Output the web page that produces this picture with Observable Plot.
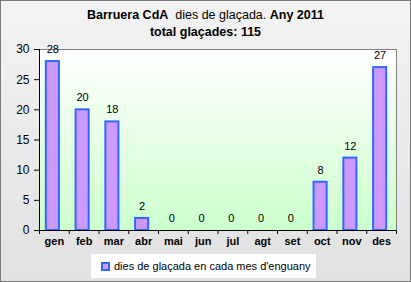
<!DOCTYPE html>
<html><head><meta charset="utf-8">
<script src="https://cdn.jsdelivr.net/npm/d3@7"></script>
<script src="https://cdn.jsdelivr.net/npm/@observablehq/plot@0.6"></script>
<style>
body{margin:0;font-family:"Liberation Sans",Arial,sans-serif;}
#c{position:relative;width:411px;height:282px;background:linear-gradient(#f3f3f3,#e1e1e1);box-shadow:inset 0 0 0 1px #7a7a7a;overflow:hidden;}
#t{position:absolute;left:0;top:7px;width:411px;text-align:center;font-size:12.5px;line-height:17px;color:#000;}
#p{position:absolute;left:0;top:40px;}
#lg{position:absolute;left:91px;top:254px;width:225px;height:24px;background:#fff;font-size:11px;display:flex;align-items:center;}
#lg .m{display:inline-block;width:5px;height:5px;background:#cc99ff;border:2px solid #3366ff;margin-left:10px;margin-right:4px;}
</style></head>
<body>
<div id="c">
<div id="t"><b>Barruera CdA</b>&nbsp; dies de glaçada. <b>Any 2011</b><br><b>total glaçades: 115</b></div>
<div id="p"></div>
<div id="lg"><span class="m"></span><span>dies de glaçada en cada mes d'enguany</span></div>
</div>
<script>
const months = ["gen","feb","mar","abr","mai","jun","jul","agt","set","oct","nov","des"];
const values = [28,20,18,2,0,0,0,0,0,8,12,27];
const yTicks = [0,5,10,15,20,25,30];
const data = months.map((m,i)=>({m, v: values[i]}));
const W = 411, ML = 39, MR = 15;
const step = (W-ML-MR)/months.length;
const chart = Plot.plot({
  width: W, height: 210,
  marginLeft: ML, marginRight: MR, marginTop: 9, marginBottom: 20,
  style: {fontFamily: '"Liberation Sans", Arial, sans-serif', background: "transparent", color: "#000"},
  x: {domain: months, paddingInner: 0.56, paddingOuter: 0.28, round: false, axis: null, label: null},
  y: {domain: [0,30], axis: null, label: null},
  marks: [
    Plot.frame({fill: "url(#bgGrad)", stroke: "#808080"}),
    Plot.barY(data, {x: "m", y: "v", filter: d => d.v > 0, fill: "#cc99ff", stroke: "#3366ff", strokeWidth: 2, dx: -1.5}),
    Plot.text(data, {x: "m", y: "v", text: d => String(d.v), dy: -12, dx: -1.5, fontSize: 11}),
    Plot.axisY({ticks: yTicks, tickSize: 5, tickPadding: 5, fontSize: 12, stroke: "#000", label: null}),
    Plot.axisX({tickSize: 0, tickPadding: 7, fontSize: 11, fontWeight: "bold", label: null}),
    Plot.axisX({tickSize: 4, tickFormat: () => "", dx: -step/2, stroke: "#000", label: null}),
    Plot.axisX({ticks: [months[months.length-1]], tickSize: 4, tickFormat: () => "", dx: step/2, stroke: "#000", label: null}),
    Plot.ruleY([0], {stroke: "#000"}),
    Plot.ruleX([months[0]], {dx: -step/2, stroke: "#000"})
  ]
});
const ns = "http://www.w3.org/2000/svg";
const defs = document.createElementNS(ns, "defs");
defs.innerHTML = '<linearGradient id="bgGrad" x1="0" y1="0" x2="0" y2="1"><stop offset="0" stop-color="#ffffff"/><stop offset="1" stop-color="#ccffcc"/></linearGradient>';
chart.insertBefore(defs, chart.firstChild);
document.getElementById("p").appendChild(chart);
</script>
</body></html>
